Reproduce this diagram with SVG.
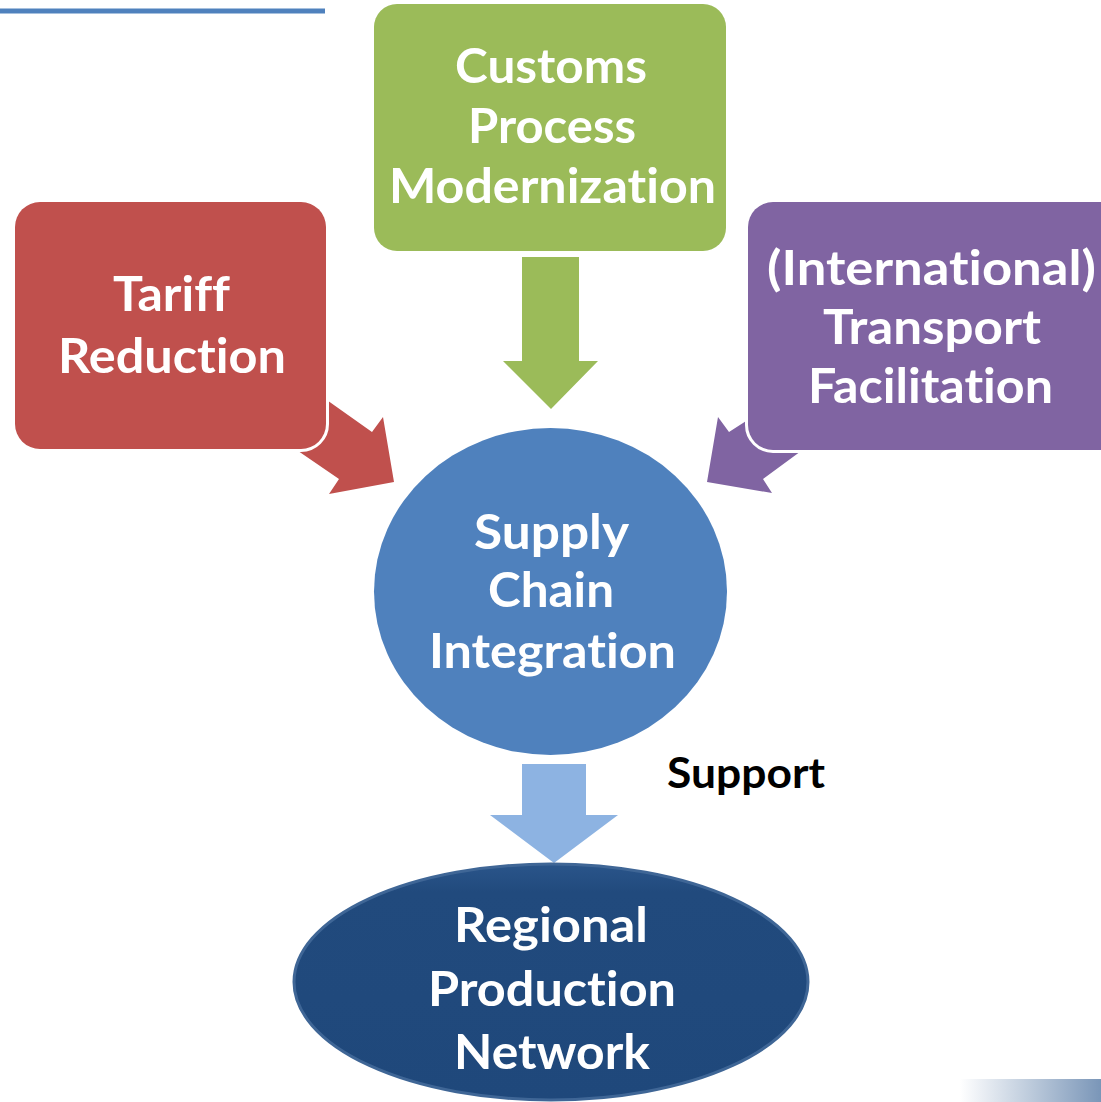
<svg xmlns="http://www.w3.org/2000/svg" width="1101" height="1102" viewBox="0 0 1101 1102">
  <defs>
    <style>
      .lbl { font-family: "Lato", "Open Sans", "Liberation Sans", sans-serif; font-weight: 700; font-size: 48px; fill: #ffffff; text-anchor: middle; font-variant-ligatures: none; font-feature-settings: "liga" 0, "clig" 0; }
      .note { font-family: "Lato", "Open Sans", "Liberation Sans", sans-serif; font-weight: 700; font-size: 42px; fill: #000000; font-variant-ligatures: none; }
      .box { stroke: #ffffff; stroke-width: 6; paint-order: stroke; }
    </style>
    <linearGradient id="cornerFade" x1="0" y1="0" x2="1" y2="0">
      <stop offset="0" stop-color="#ffffff"/>
      <stop offset="1" stop-color="#7a96b8"/>
    </linearGradient>
    <linearGradient id="darkShade" x1="0" y1="0" x2="0" y2="1">
      <stop offset="0" stop-color="#2a558a"/>
      <stop offset="0.12" stop-color="#214a7d"/>
      <stop offset="1" stop-color="#1f487b"/>
    </linearGradient>
  </defs>

  <!-- header rule and corner band -->
  <line x1="0" y1="11" x2="325" y2="11" stroke="#4f81bd" stroke-width="5"/>
  <rect x="960" y="1079" width="141" height="23" fill="url(#cornerFade)"/>

  <!-- arrows -->
  <g id="connectors">
    <polygon id="arrow-tariff" fill="#c0504d" points="300,381 372,432 383,417 394,482 329,494 339,479 285,442"/>
    <polygon id="arrow-transport" fill="#8064a2" points="800,385 743,423 729,432 718,417 707,482 772,493 763,479 812,443"/>
    <polygon id="arrow-customs" fill="#9bbb59" points="522,257 579,257 579,361 598,361 551,409 503,361 522,361"/>
    <polygon id="arrow-support" fill="#8db3e2" points="522,764 586,764 586,815 618,815 554,863 490,815 522,815"/>
    <text class="note" x="746" y="788" text-anchor="middle" textLength="158" lengthAdjust="spacingAndGlyphs">Support</text>
  </g>

  <g id="node-customs">
    <rect class="box" x="374" y="4" width="352" height="247" rx="23" fill="#9bbb59"/>
    <text class="lbl" x="551" y="83" textLength="192" lengthAdjust="spacingAndGlyphs">Customs</text>
    <text class="lbl" x="552" y="143" textLength="168" lengthAdjust="spacingAndGlyphs">Process</text>
    <text class="lbl" x="552.5" y="203" textLength="327" lengthAdjust="spacingAndGlyphs">Modernization</text>
  </g>

  <g id="node-tariff">
    <rect class="box" x="15" y="202" width="311" height="247" rx="25" fill="#c0504d"/>
    <text class="lbl" x="171.5" y="311" textLength="117" lengthAdjust="spacingAndGlyphs">Tariff</text>
    <text class="lbl" x="172" y="373" textLength="228" lengthAdjust="spacingAndGlyphs">Reduction</text>
  </g>

  <g id="node-transport">
    <rect class="box" x="748" y="202" width="380" height="248" rx="25" fill="#8064a2"/>
    <text class="lbl" x="931.5" y="285" textLength="329" lengthAdjust="spacingAndGlyphs">(International)</text>
    <text class="lbl" x="932" y="344" textLength="218" lengthAdjust="spacingAndGlyphs">Transport</text>
    <text class="lbl" x="930.5" y="403" textLength="245" lengthAdjust="spacingAndGlyphs">Facilitation</text>
  </g>

  <g id="node-supply-chain">
    <ellipse cx="550.5" cy="591.5" rx="176.5" ry="163.5" fill="#4f81bd"/>
    <text class="lbl" x="551.5" y="549" textLength="155" lengthAdjust="spacingAndGlyphs">Supply</text>
    <text class="lbl" x="551" y="607" textLength="126" lengthAdjust="spacingAndGlyphs">Chain</text>
    <text class="lbl" x="552.5" y="668" textLength="247" lengthAdjust="spacingAndGlyphs">Integration</text>
  </g>

  <g id="node-production-network">
    <ellipse cx="551" cy="982" rx="257" ry="118" fill="url(#darkShade)" stroke="#3f6696" stroke-width="3"/>
    <text class="lbl" x="551" y="942" textLength="194" lengthAdjust="spacingAndGlyphs">Regional</text>
    <text class="lbl" x="552" y="1006" textLength="248" lengthAdjust="spacingAndGlyphs">Production</text>
    <text class="lbl" x="552" y="1069" textLength="196" lengthAdjust="spacingAndGlyphs">Network</text>
  </g>
</svg>
